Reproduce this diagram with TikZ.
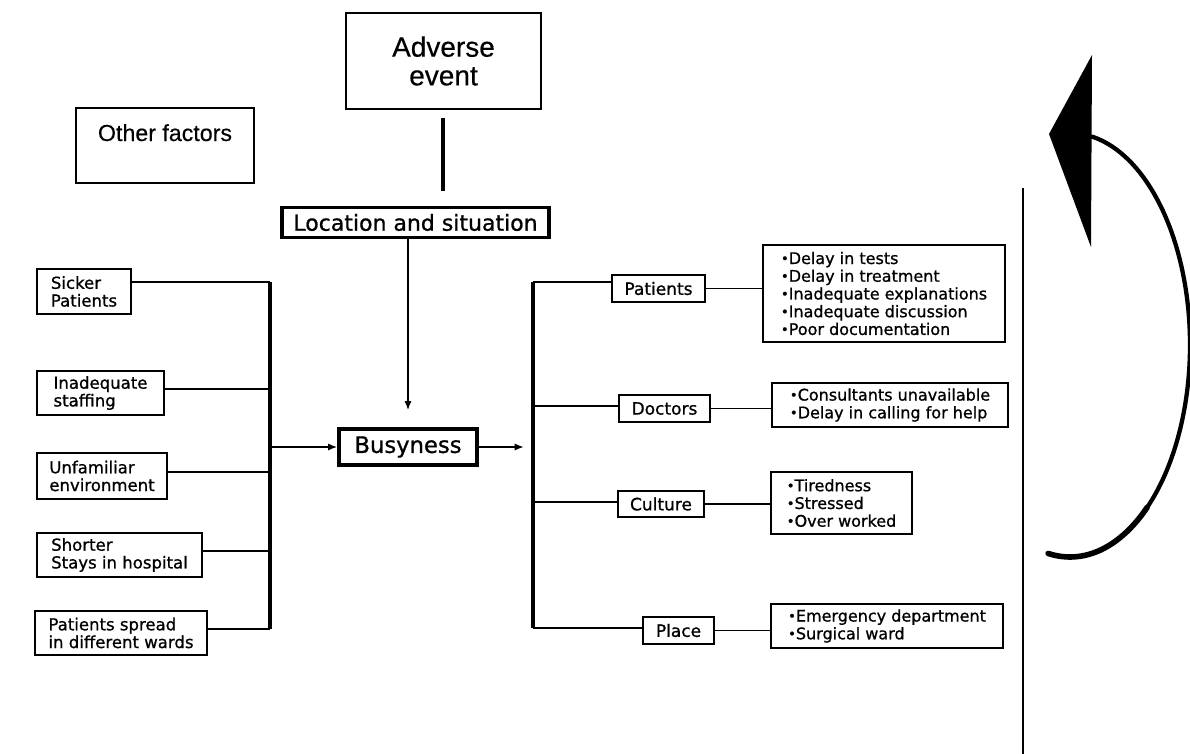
\documentclass[tikz,border=0pt]{standalone}
\usepackage{fontspec}
\setmainfont{DejaVu Sans}[FakeBold=0.9]
\newfontfamily\headfont{Liberation Sans}[FakeBold=0.4]
\usetikzlibrary{arrows.meta,calc}
\newcommand\bul{{\fontsize{10}{10}\selectfont\raisebox{0.6pt}{•}}}

\begin{document}
\begin{tikzpicture}[x=0.75pt,y=-0.75pt,
  every node/.style={inner sep=0pt},
  smallbox/.style={draw,line width=1.1pt,align=left,
    font=\fontsize{12.4}{13.3}\selectfont},
  catbox/.style={draw,line width=1.1pt,align=center,
    font=\fontsize{12.75}{13.3}\selectfont},
  listbox/.style={draw,line width=1.1pt,align=left,
    font=\fontsize{12}{13.3}\selectfont},
  bigbox/.style={draw,line width=1.5pt,align=center,
    font=\headfont\fontsize{21}{21.5}\selectfont},
  heavybox/.style={draw,line width=2.5pt,align=center},
  conn/.style={line width=1.1pt},
  bar/.style={line width=3pt},
  tip/.style={-{Latex[length=7pt,width=5.5pt]}}
]
\fill[white] (0,0) rectangle (1190,754);
\useasboundingbox (0,0) rectangle (1190,754);

% top of the chain
\node[bigbox,minimum width=146.25pt,minimum height=72pt] (adverse) at (443.5,61) {Adverse\\event};
\node[draw,line width=1.5pt,anchor=north west,minimum width=133.5pt,
      text height=24.75pt,text depth=31.5pt,
      font=\headfont\fontsize{17.4}{20}\selectfont] (other) at (75,107) {Other factors};
\node[heavybox,minimum width=200.25pt,minimum height=22.5pt,
      font=\fontsize{16.5}{18}\selectfont] (location) at (415.5,222.5) {Location and situation};
\node[heavybox,minimum width=103.5pt,minimum height=27pt,
      font=\fontsize{17}{18}\selectfont] (busy) at (408,447) {Busyness};

\coordinate (advend) at (443,191);
\draw[line width=2.6pt] ($(adverse.south -| advend)+(0,8)$) -- (advend);
\draw[line width=1.5pt,tip] (busy.north |- location.south) -- ($(busy.north)+(0,-17)$);

% causes on the left
\node[smallbox,minimum width=70.5pt,minimum height=33.75pt] (sick) at (84,291.5) {Sicker\\Patients};
\node[smallbox,minimum width=95.25pt,minimum height=33pt] (inad) at (100.5,393) {Inadequate\\staffing};
\node[smallbox,minimum width=97.5pt,minimum height=34.5pt] (unfa) at (102,476) {Unfamiliar\\environment};
\node[smallbox,minimum width=123.75pt,minimum height=33pt] (shor) at (119.5,555) {Shorter\\Stays in hospital};
\node[smallbox,minimum width=129pt,minimum height=33pt] (spre) at (121,633) {Patients spread\\in different wards};

\coordinate (l1) at (270,282);
\coordinate (l2) at (270,389);
\coordinate (l3) at (270,472);
\coordinate (l4) at (270,551);
\coordinate (l5) at (270,629);
\draw[bar] (l1) -- (l5);
\draw[conn] (sick.east |- l1) -- (l1);
\draw[conn] (inad.east |- l2) -- (l2);
\draw[conn] (unfa.east |- l3) -- (l3);
\draw[conn] (shor.east |- l4) -- (l4);
\draw[conn] (spre.east |- l5) -- (l5);
\draw[line width=1.8pt,tip] (busy.west -| l1) -- (busy.west);

% consequences on the right
\coordinate (r1) at (533,282);
\coordinate (r2) at (533,406);
\coordinate (r3) at (533,502);
\coordinate (r4) at (533,628);
\draw[line width=1.8pt,tip] (busy.east) -- ($(busy.east -| r1)+(-9,0)$);
\draw[bar] (r1) -- (r4);

\node[catbox,minimum width=69.75pt,minimum height=20.25pt] (pat) at (658.5,288.5) {Patients};
\node[catbox,minimum width=68.25pt,minimum height=20.25pt] (doc) at (664.5,408.5) {Doctors};
\node[catbox,minimum width=64.5pt,minimum height=19.5pt] (cul) at (661,504) {Culture};
\node[catbox,minimum width=53.25pt,minimum height=20.25pt] (pla) at (678.5,630.5) {Place};

\draw[conn] (r1) -- (pat.west |- r1);
\draw[conn] (r2) -- (doc.west |- r2);
\draw[conn] (r3) -- (cul.west |- r3);
\draw[conn] (r4) -- (pla.west |- r4);

\node[listbox,minimum width=181.5pt,minimum height=72.75pt] (plist) at (884,293.5)
  {\bul Delay in tests\\\bul Delay in treatment\\\bul Inadequate explanations\\\bul Inadequate discussion\\\bul Poor documentation};
\node[listbox,minimum width=177pt,minimum height=33pt] (dlist) at (890,405)
  {\bul Consultants unavailable\\\bul Delay in calling for help};
\node[listbox,minimum width=105.75pt,minimum height=46.5pt] (clist) at (841.5,503)
  {\bul Tiredness\\\bul Stressed\\\bul Over worked};
\node[listbox,minimum width=174pt,minimum height=33pt] (llist) at (887,626)
  {\bul Emergency department\\\bul Surgical ward};

\draw[conn] (pat.east) -- (pat.east -| plist.west);
\draw[conn] (doc.east) -- (doc.east -| dlist.west);
\draw[conn] (cul.east) -- (cul.east -| clist.west);
\draw[conn] (pla.east) -- (pla.east -| llist.west);

% divider and the returning loop, heavier towards its tail
\draw[line width=1.1pt] (1023,188) -- (1023,754);
\fill (1092,55) -- (1049,134) -- (1091,247) -- cycle;
\draw[line width=3.2pt,line cap=round] plot[domain=-79.4:100.5,samples=80,smooth,variable=\t]
  ({1070+120*cos(\t)},{345+212*sin(\t)});
\draw[line width=4.2pt,line cap=round] plot[domain=50:100.5,samples=30,smooth,variable=\t]
  ({1070+120*cos(\t)},{345+212*sin(\t)});
\end{tikzpicture}
\end{document}
